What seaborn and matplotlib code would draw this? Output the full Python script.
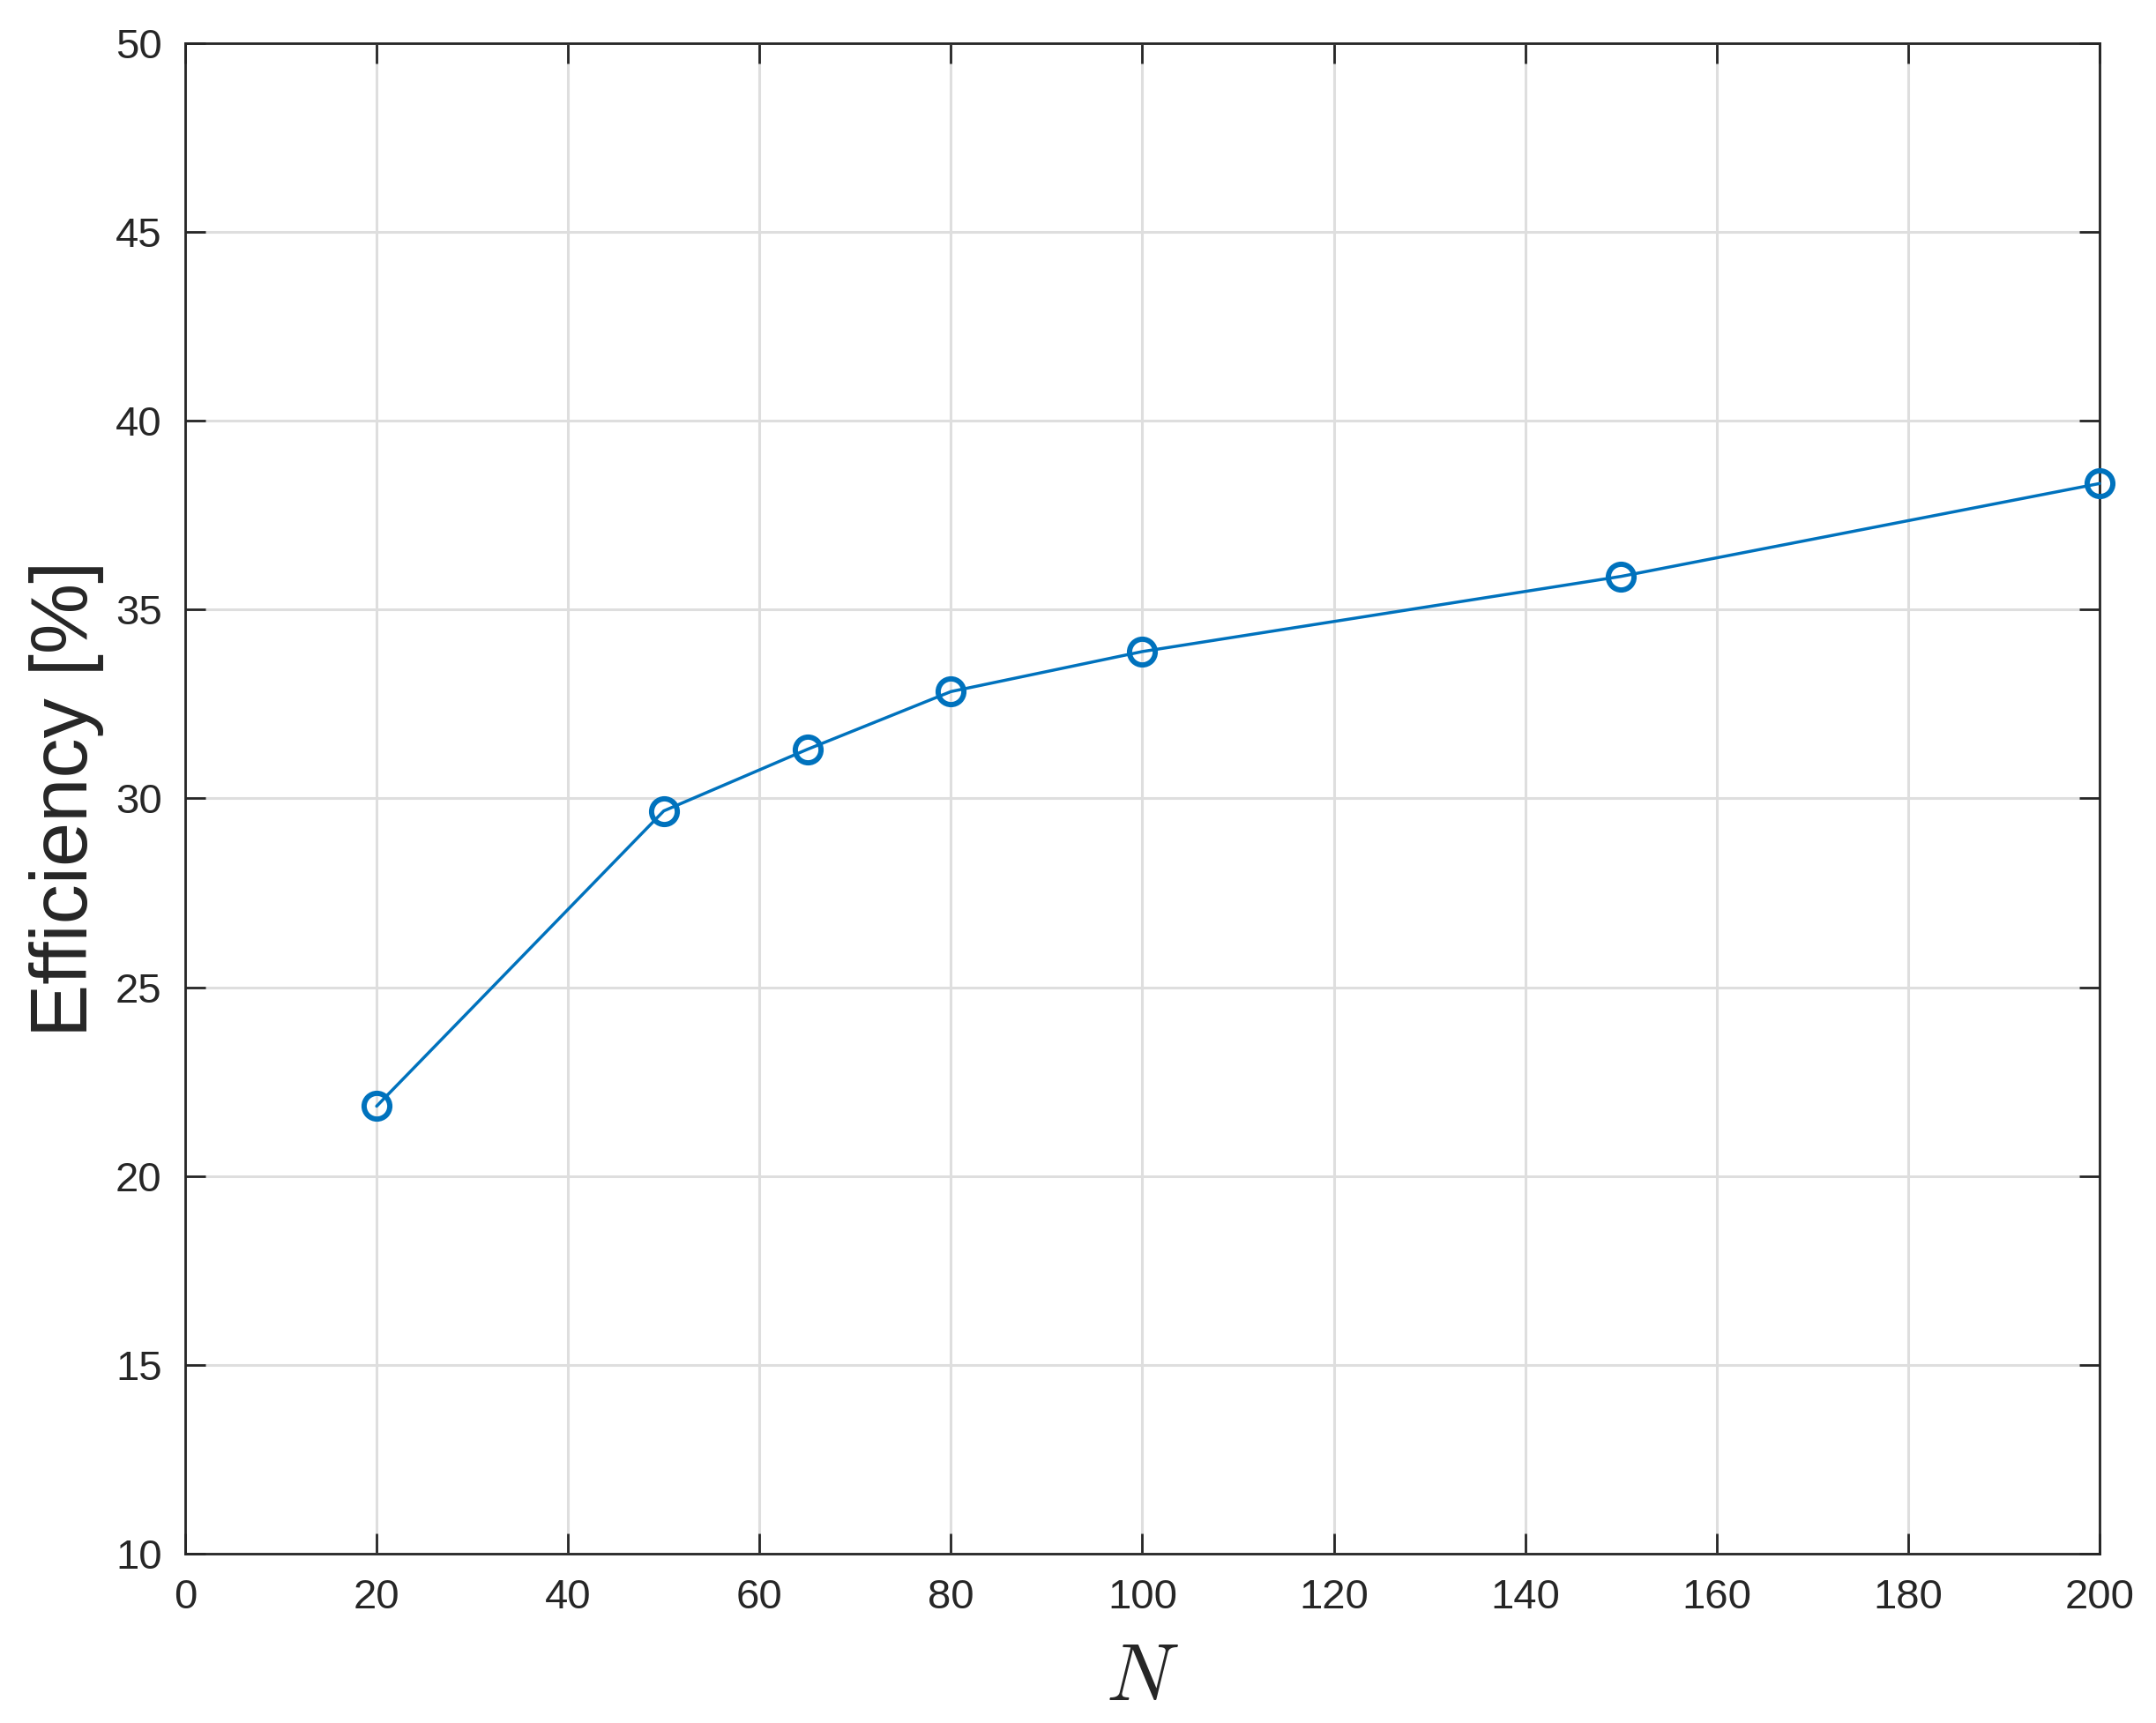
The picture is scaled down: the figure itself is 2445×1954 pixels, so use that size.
import numpy as np
import pandas as pd
import matplotlib
matplotlib.use('Agg')
import matplotlib.pyplot as plt
import seaborn as sns

# data
n_values = [20, 50, 65, 80, 100, 150, 200]
efficiency = [21.85, 29.67, 31.30, 32.83, 33.89, 35.88, 38.34]
x_ticks = list(range(0, 201, 20))
y_ticks = list(range(10, 51, 5))

df = pd.DataFrame({'N': n_values, 'Efficiency': efficiency})

sns.set_theme(style='white')
plt.rcParams['font.family'] = ['Liberation Sans', 'DejaVu Sans']
plt.rcParams['mathtext.fontset'] = 'cm'

line_color = '#0072BD'
dark = '#262626'

fig = plt.figure(figsize=(24.45, 19.54), dpi=100)
ax = fig.add_axes([0.0859, 0.0983, 0.9738 - 0.0859, 0.9749 - 0.0983])

sns.lineplot(data=df, x='N', y='Efficiency', ax=ax, color=line_color,
             linewidth=2.5, marker='o', markersize=21, markerfacecolor='none',
             markeredgecolor=line_color, markeredgewidth=4.3, zorder=5,
             clip_on=False)

ax.set_xlim(0, 200)
ax.set_ylim(10, 50)
ax.set_xticks(x_ticks)
ax.set_yticks(y_ticks)

ax.grid(True, color='#dedede', linewidth=2.2)
ax.set_axisbelow(True)

for side in ['left', 'right', 'top', 'bottom']:
    ax.spines[side].set_visible(True)
    ax.spines[side].set_color(dark)
    ax.spines[side].set_linewidth(2.0)

ax.tick_params(axis='both', which='major', direction='in', length=16.5,
               width=2.0, color=dark, labelcolor=dark, labelsize=34,
               top=True, right=True, bottom=True, left=True)
ax.tick_params(axis='x', pad=20)
ax.tick_params(axis='y', pad=19)

ax.set_xlabel(r'$N$', fontsize=66, color=dark, labelpad=20)
ax.set_ylabel('Efficiency [%]', fontsize=65, color=dark, labelpad=9)

fig.savefig('out.png', dpi=100, facecolor='white')
